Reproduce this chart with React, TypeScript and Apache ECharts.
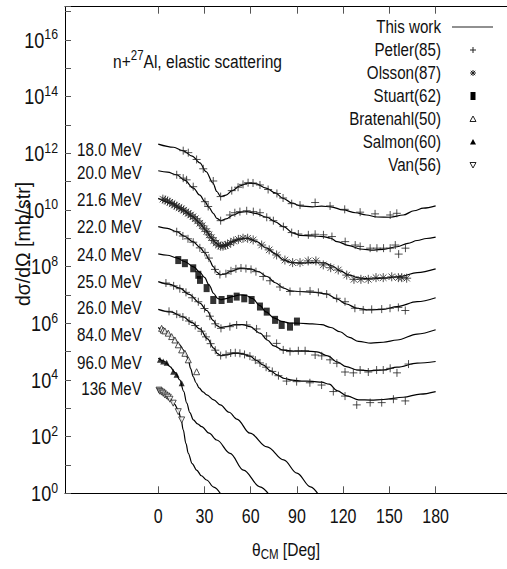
import React, { useEffect, useRef } from 'react';
import * as echarts from 'echarts';

const FONT = "'Liberation Sans', Arial, sans-serif";
const NARROW = 0.82;

// x: scattering angle theta_CM [deg]; y: log10 of dσ/dΩ [mb/str] (scaled per energy)
const xTicks = [0, 30, 60, 90, 120, 150, 180];
const yLabelExps = [0, 2, 4, 6, 8, 10, 12, 14, 16];
const energyLabels = ['18.0 MeV', '20.0 MeV', '21.6 MeV', '22.0 MeV', '24.0 MeV', '25.0 MeV', '26.0 MeV', '84.0 MeV', '96.0 MeV', '136 MeV'];
const energyLabelLogs = [12.12, 11.32, 10.35, 9.38, 8.41, 7.47, 6.53, 5.59, 4.61, 3.67];
const legendNames = ['This work', 'Petler(85)', 'Olsson(87)', 'Stuart(62)', 'Bratenahl(50)', 'Salmon(60)', 'Van(56)'];

// "This work" calculated curves
const calc18 = [[0,12.32],[10,12.21],[16,12.09],[22,11.9],[27,11.66],[31,11.35],[35.5,10.95],[38,10.65],[40.5,10.47],[44,10.52],[48,10.68],[53,10.85],[58,10.94],[63,10.93],[70,10.77],[76,10.6],[81,10.41],[87,10.24],[92,10.14],[100,10.11],[106,10.13],[112,10.11],[120,10.0],[128,9.9],[135,9.82],[142,9.75],[150.5,9.74],[159,9.82],[166,9.97],[172,10.06],[180,10.14]];
const calc20 = [[0,11.38],[6,11.33],[12,11.24],[17,11.05],[22.8,10.77],[27,10.52],[30.3,10.29],[33,10.08],[35.7,9.88],[38,9.7],[40.7,9.62],[44,9.68],[48.7,9.82],[53,9.91],[57.4,9.94],[63,9.88],[70.4,9.74],[76,9.58],[81.2,9.41],[87.7,9.18],[92,9.1],[100,9.08],[107,9.06],[112,9.0],[116,8.88],[124,8.74],[131,8.62],[140,8.58],[146,8.61],[155,8.7],[162,8.82],[168,8.92],[174,8.99],[180,9.04]];
const calc216 = [[0,10.41],[8,10.25],[16.2,10.0],[22,9.78],[27,9.53],[31,9.28],[34,9.05],[37,8.85],[40.3,8.72],[44,8.76],[48,8.88],[53,8.97],[57.6,9.0],[63,8.9],[70.6,8.65],[76,8.45],[81.4,8.23],[87,8.14],[92,8.12],[100,8.14],[108,8.13],[113,8.02],[118,7.85],[124,7.7],[130,7.6],[138,7.57],[146,7.59],[157,7.65],[168,7.79],[180,7.92]];
const calc22 = [[0,9.41],[6,9.35],[12,9.23],[17,9.07],[22.6,8.88],[27,8.68],[30.3,8.48],[33,8.25],[35.7,8.0],[38,7.8],[40.3,7.71],[43,7.73],[46.6,7.82],[53,7.94],[59.5,7.92],[65,7.82],[70.6,7.65],[76,7.43],[81.4,7.24],[86,7.14],[92,7.12],[100,7.1],[109,7.04],[115.8,6.86],[122,6.68],[129,6.53],[137,6.47],[146,6.49],[155,6.59],[168,6.76],[180,6.9]];
const calc24 = [[0,8.45],[6,8.4],[12,8.31],[17,8.18],[23,7.99],[27,7.8],[30,7.62],[33,7.35],[36,7.05],[38.5,6.88],[40.5,6.83],[44,6.87],[48,6.94],[53,7.0],[57,6.98],[61,6.88],[66,6.62],[70,6.4],[75,6.19],[80,6.07],[85,6.01],[92,6.0],[100,5.98],[106,5.95],[112,5.85],[118,5.7],[124,5.5],[130,5.36],[138,5.3],[146,5.33],[155,5.41],[168,5.62],[180,5.77]];
const calc25 = [[0,7.47],[7,7.38],[14,7.24],[20,7.02],[27,6.71],[31.5,6.45],[35.7,6.1],[38,5.92],[40.3,5.85],[44,5.88],[50,5.95],[55,5.95],[59.5,5.88],[66,5.65],[71,5.4],[75,5.2],[81,5.05],[88,5.02],[95,5.02],[103,4.99],[110,4.85],[116,4.64],[122,4.47],[129,4.35],[137,4.32],[146,4.35],[155,4.45],[168,4.59],[180,4.65]];
const calc26 = [[0,6.49],[8,6.4],[16,6.23],[22,6.02],[27,5.8],[32,5.45],[36,5.12],[38.5,4.93],[40.5,4.86],[44,4.88],[49,4.94],[54,4.93],[59.5,4.84],[64,4.68],[68,4.53],[73,4.32],[77,4.18],[82,4.05],[87,3.99],[93,3.96],[100,3.95],[106,3.92],[111,3.85],[116,3.62],[123,3.43],[130,3.3],[138,3.29],[146,3.31],[159,3.39],[170,3.5],[180,3.59]];
const calc84 = [[0,5.85],[5,5.7],[10,5.47],[14,5.24],[16.2,5.06],[18,4.9],[19.5,4.71],[21,4.4],[22.7,4.12],[24.5,3.9],[26.5,3.72],[29,3.58],[31.5,3.47],[36,3.3],[40.3,3.12],[46,2.86],[51,2.62],[59.5,2.12],[70.6,1.64],[81.4,1.18],[90,0.71],[98.8,0.23],[104,-0.05]];
const calc96 = [[0,4.77],[4,4.66],[7.6,4.47],[11,4.26],[14,4.0],[16.5,3.6],[18.5,3.18],[20.5,2.85],[22.8,2.59],[25.5,2.45],[28.2,2.35],[33,2.12],[38,1.88],[46.6,1.41],[55.3,0.82],[66,0.23],[72,-0.05]];
const calc136 = [[0,3.71],[4,3.55],[7.6,3.35],[10.5,3.15],[13,2.94],[14.8,2.62],[16.2,2.24],[18,1.75],[19.5,1.41],[22,1.05],[24.9,0.82],[28,0.62],[31.4,0.47],[36,0.22],[40.5,-0.02]];

// experimental data
const petler18 = [[16.2,12.09],[19.5,12.02],[24.9,11.78],[29.2,11.45],[35.7,11.02],[40.5,10.47],[47.7,10.68],[51.8,10.8],[55,10.9],[58.3,10.96],[61.5,10.95],[66,10.88],[71.3,10.72],[77,10.58],[81,10.42],[86.6,10.22],[92,10.17],[101.8,10.26],[111.5,10.14],[121,10.02],[131,9.92],[140.7,9.86],[150.5,9.82],[154.8,9.88]];
const petler20 = [[12,11.24],[16.2,11.12],[18.4,11.06],[22.7,10.82],[30.3,10.29],[32.4,10.12],[40.5,9.62],[46.5,9.82],[49.7,9.9],[53,9.94],[57.4,9.97],[61.7,9.94],[66,9.9],[70.4,9.74],[74.7,9.62],[81.2,9.41],[86.6,9.2],[90.9,9.15],[97.4,9.12],[101.8,9.14],[107.2,9.12],[112.7,9.06],[121.3,8.88],[127.8,8.76],[131,8.71],[137.5,8.65],[141.9,8.65],[146.2,8.65],[150.5,8.65],[153.8,8.76],[156,8.44],[160.4,8.65]];
const petler22 = [[12,9.23],[16,9.08],[19.3,8.98],[22.7,8.86],[27,8.66],[30.3,8.5],[32.9,8.3],[36.8,7.9],[40,7.72],[43.9,7.75],[47.2,7.85],[50.4,7.92],[53.7,7.95],[56.9,7.93],[60.2,7.9],[63.4,7.82],[68.1,7.65],[72.5,7.5],[79,7.28],[85.5,7.12],[92,7.12],[98.5,7.14],[103.9,7.09],[109.3,7.03],[115.8,6.88],[121.2,6.76],[127.6,6.53],[133,6.47],[138.5,6.49],[145,6.5],[150.4,6.53],[155.8,6.56],[160.3,6.45]];
const petler25 = [[5,7.42],[10,7.32],[14,7.22],[18,7.09],[22,6.9],[26,6.76],[30,6.52],[33.5,6.25],[37,5.98],[40.7,5.82],[46.5,5.88],[50.9,5.94],[57.4,5.94],[63.8,5.8],[70.3,5.55],[76.8,5.29],[81.1,5.06],[85.5,5.0],[90.9,5.03],[95.3,5.03],[101.8,4.88],[106.1,4.85],[111.5,4.71],[115.9,4.59],[121.2,4.28],[126.6,4.25],[131,4.35],[136.3,4.28],[141.7,4.35],[146,4.35],[150.5,4.41],[154.9,4.25],[162.4,4.56]];
const petler26 = [[7,6.42],[12,6.32],[16,6.22],[20,6.08],[24,5.92],[28,5.72],[31,5.52],[34,5.28],[37,5.05],[40.5,4.86],[44,4.9],[47,4.95],[50,4.96],[53,4.94],[56,4.9],[59.5,4.84],[63,4.7],[66,4.6],[70,4.45],[74,4.3],[78,4.15],[83.3,3.96],[89.8,3.94],[98.4,3.9],[106,3.82],[113.6,3.59],[121.2,3.43],[128.8,3.12],[137.5,3.2],[145,3.2],[152.6,3.32],[160.3,3.26]];
const olsson216 = [[3,10.38],[4.5,10.35],[6,10.31],[7.5,10.27],[9,10.22],[10.5,10.17],[12,10.13],[13.5,10.08],[15,10.04],[16.5,9.99],[18,9.93],[19.5,9.88],[21,9.82],[22.5,9.76],[24,9.69],[25.5,9.61],[27,9.53],[28.5,9.44],[30,9.33],[31.5,9.24],[33,9.12],[34.5,9.02],[36,8.92],[37.5,8.83],[39,8.76],[40.5,8.72],[42,8.72],[43.5,8.75],[45,8.78],[47,8.84],[49,8.9],[52,8.96],[55,9.0],[58,9.0],[61.6,8.94],[67.1,8.76],[72,8.59],[76.8,8.41],[82.2,8.23],[87.2,8.14],[92,8.14],[97.3,8.2],[102.3,8.2],[107.1,8.06],[111.9,7.96],[116.8,7.88],[122.3,7.7],[127,7.55],[131.5,7.55],[136.3,7.55],[141.3,7.61],[146,7.61],[151.5,7.64],[155.8,7.61],[158,7.61],[161.2,7.59]];
const stuart24 = [[13,8.23],[17.3,8.12],[22.7,7.94],[26,7.71],[27.1,7.53],[31.4,7.24],[35.7,6.82],[41.1,6.82],[46.5,6.86],[50.9,6.94],[55.8,6.88],[60.6,6.82],[66,6.59],[70.4,6.41],[75.8,6.12],[80.1,5.94],[85.5,5.88],[90,6.06]];
const bratenahl84 = [[2.2,5.82],[3.2,5.76],[4.3,5.73],[6.5,5.65],[8.7,5.53],[10.8,5.41],[13,5.24],[15.2,5.06],[17.3,4.94],[19.5,4.71],[24.9,4.29]];
const salmon96 = [[1.1,4.71],[3.2,4.65],[5.5,4.61],[9.7,4.29],[11.9,4.18],[15.2,3.88]];
const van136 = [[0.5,3.64],[1.1,3.6],[2.2,3.57],[3.2,3.53],[4.3,3.47],[5.5,3.43],[6.5,3.39],[7.6,3.32],[9.7,3.18],[13,2.88],[15.2,2.59]];

const calcCurves = [calc18, calc20, calc216, calc22, calc24, calc25, calc26, calc84, calc96, calc136];

const PLUS = 'path://M-5,0L5,0M0,-5L0,5';
const STAR = 'path://M-5,0L5,0M0,-5L0,5M-3.6,-3.6L3.6,3.6M-3.6,3.6L3.6,-3.6';
const DTRI = 'path://M0,0L10,0L5,9Z';

const txt = (text: string, x: number, y: number, size: number, align: string, extra: any = {}) => ({
  type: 'text', x, y, scaleX: NARROW, silent: true,
  style: { text, align, verticalAlign: 'middle', font: `${size}px ${FONT}`, fill: '#111' },
  ...extra,
});

export default function App() {
  const ref = useRef<HTMLDivElement>(null);
  useEffect(() => {
    if (!ref.current) return;
    const chart = echarts.init(ref.current, null, { renderer: 'svg' });
    const strokeStyle = { color: 'rgba(0,0,0,0)', borderColor: '#222', borderWidth: 1 };
    const series: any[] = [];
    calcCurves.forEach((c) => {
      series.push({
        type: 'line', data: c, showSymbol: false, smooth: 0.35, smoothMonotone: 'x',
        lineStyle: { color: '#000', width: 1.2 }, clip: true, silent: true, z: 2,
      });
    });
    [petler18, petler20, petler22, petler25, petler26].forEach((d) => {
      series.push({ type: 'scatter', data: d, symbol: PLUS, symbolSize: 8, itemStyle: strokeStyle, silent: true, z: 3 });
    });
    series.push({ type: 'scatter', data: olsson216, symbol: STAR, symbolSize: 9, itemStyle: { ...strokeStyle, borderColor: '#222' }, silent: true, z: 3 });
    series.push({ type: 'scatter', data: stuart24, symbol: 'rect', symbolSize: [6, 8], itemStyle: { color: '#000' }, silent: true, z: 3 });
    series.push({ type: 'scatter', data: bratenahl84, symbol: 'triangle', symbolSize: 6, itemStyle: { color: '#fff', borderColor: '#222', borderWidth: 1 }, silent: true, z: 3 });
    series.push({ type: 'scatter', data: salmon96, symbol: 'triangle', symbolSize: 6, itemStyle: { color: '#000' }, silent: true, z: 3 });
    series.push({ type: 'scatter', data: van136, symbol: DTRI, symbolSize: 6, itemStyle: { color: '#fff', borderColor: '#222', borderWidth: 1 }, silent: true, z: 3 });

    const option: any = {
      animation: false,
      backgroundColor: '#fff',
      textStyle: { fontFamily: FONT },
      grid: { left: 65, right: 0, top: 6.7, bottom: 75.7, containLabel: false },
      xAxis: [
        {
          type: 'value', min: -60.5, max: 226.3, position: 'bottom',
          axisLine: { show: true, onZero: false, lineStyle: { color: '#000', width: 1 } },
          axisTick: { show: true, inside: true, length: 7, customValues: xTicks, lineStyle: { color: '#555' } },
          axisLabel: { show: false },
          splitLine: { show: false },
        },
        {
          type: 'value', min: -60.5, max: 226.3, position: 'top',
          axisLine: { show: true, onZero: false, lineStyle: { color: '#000', width: 1 } },
          axisTick: { show: true, inside: true, length: 7, customValues: xTicks, lineStyle: { color: '#555' } },
          axisLabel: { show: false },
          splitLine: { show: false },
        },
      ],
      yAxis: {
        type: 'value', min: 0, max: 17.17, interval: 1, position: 'left',
        axisLine: { show: true, onZero: false, lineStyle: { color: '#000', width: 1 } },
        axisTick: { show: true, inside: true, length: 6, lineStyle: { color: '#555' } },
        axisLabel: { show: false },
        splitLine: { show: false },
      },
      series,
    };
    chart.setOption(option);

    const toPx = (x: number, y: number) => chart.convertToPixel({ gridIndex: 0 }, [x, y]) as number[];
    const [axisX, axisY] = toPx(-60.5, 0);
    const g: any[] = [];
    // tick labels
    xTicks.forEach((v) => {
      const [px] = toPx(v, 0);
      g.push(txt(String(v), px, axisY + 23.5, 19.5, 'center'));
    });
    yLabelExps.forEach((n) => {
      const [, py] = toPx(0, n);
      g.push({
        type: 'text', x: axisX - 7, y: py, scaleX: NARROW, silent: true,
        style: {
          text: `{b|10}{s|${n}}`, align: 'right', verticalAlign: 'middle', fill: '#111',
          rich: {
            b: { fontSize: 22, fontFamily: FONT, fill: '#111' },
            s: { fontSize: 15, fontFamily: FONT, fill: '#111', padding: [0, 0, 11, 0] },
          },
        },
      });
    });
    // energy labels
    energyLabels.forEach((t, i) => {
      const [px, py] = toPx(-10.6, energyLabelLogs[i]);
      g.push(txt(t, px, py, 18.5, 'right'));
    });
    // axis titles
    const [cx] = toPx(82.9, 0);
    g.push({
      type: 'text', x: cx, y: axisY + 56, scaleX: NARROW, silent: true,
      style: {
        text: '{t|θ}{s|CM}{t| [Deg]}', align: 'center', verticalAlign: 'middle', fill: '#111',
        rich: { t: { fontSize: 19, fontFamily: FONT, fill: '#111' }, s: { fontSize: 14, fontFamily: FONT, fill: '#111', padding: [9, 0, 0, 0] } },
      },
    });
    g.push({
      type: 'text', x: 23, y: 244, rotation: Math.PI / 2, silent: true,
      style: { text: 'dσ/dΩ [mb/str]', align: 'center', verticalAlign: 'middle', font: `19.5px ${FONT}`, fill: '#111' },
    });
    // title
    g.push({
      type: 'text', x: 113, y: 61, scaleX: NARROW, silent: true,
      style: {
        text: '{a|n+}{s|27}{a|Al, elastic scattering}', align: 'left', verticalAlign: 'middle', fill: '#111',
        rich: { a: { fontSize: 19, fontFamily: FONT, fill: '#111' }, s: { fontSize: 14, fontFamily: FONT, fill: '#111', padding: [0, 0, 11, 0] } },
      },
    });
    // legend
    const rowY = legendNames.map((_, i) => 27 + i * 23);
    const sx = 473;
    legendNames.forEach((n, i) => g.push(txt(n, 441, rowY[i], 18.5, 'right')));
    const ln = (x1: number, y1: number, x2: number, y2: number, w = 1) => ({
      type: 'line', silent: true, shape: { x1, y1, x2, y2 }, style: { stroke: '#222', lineWidth: w },
    });
    g.push(ln(452, rowY[0], 493, rowY[0], 1.2));
    g.push(ln(sx - 3, rowY[1], sx + 3, rowY[1]), ln(sx, rowY[1] - 3, sx, rowY[1] + 3));
    g.push(
      ln(sx - 3, rowY[2], sx + 3, rowY[2]), ln(sx, rowY[2] - 3, sx, rowY[2] + 3),
      ln(sx - 2.2, rowY[2] - 2.2, sx + 2.2, rowY[2] + 2.2), ln(sx - 2.2, rowY[2] + 2.2, sx + 2.2, rowY[2] - 2.2),
    );
    g.push({ type: 'rect', silent: true, shape: { x: sx - 2.5, y: rowY[3] - 4, width: 5, height: 8 }, style: { fill: '#000' } });
    g.push({ type: 'polygon', silent: true, shape: { points: [[sx, rowY[4] - 3], [sx + 3, rowY[4] + 2.5], [sx - 3, rowY[4] + 2.5]] }, style: { fill: '#fff', stroke: '#222', lineWidth: 1 } });
    g.push({ type: 'polygon', silent: true, shape: { points: [[sx, rowY[5] - 3], [sx + 3, rowY[5] + 2.5], [sx - 3, rowY[5] + 2.5]] }, style: { fill: '#000' } });
    g.push({ type: 'polygon', silent: true, shape: { points: [[sx - 3, rowY[6] - 2.5], [sx + 3, rowY[6] - 2.5], [sx, rowY[6] + 3]] }, style: { fill: '#fff', stroke: '#222', lineWidth: 1 } });

    chart.setOption({ graphic: g });
    return () => chart.dispose();
  }, []);
  return <div ref={ref} style={{ position: 'fixed', left: 0, top: 0, width: 507, height: 569, background: '#fff' }} />;
}
